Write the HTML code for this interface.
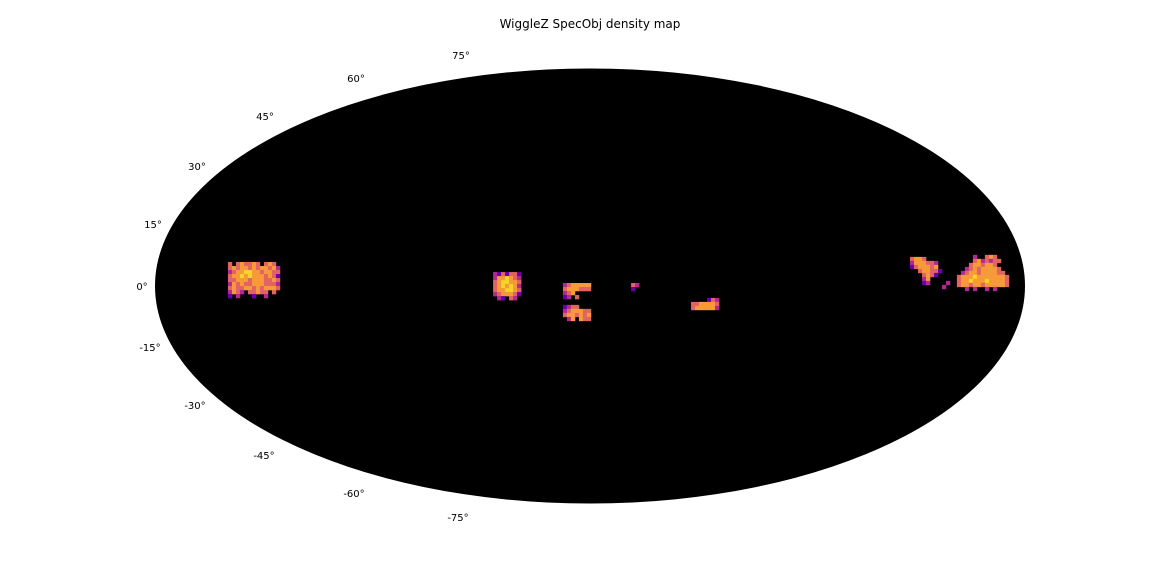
<!DOCTYPE html>
<html><head><meta charset="utf-8">
<style>
html,body{margin:0;padding:0;background:#fff;}
svg text{font-family:"DejaVu Sans","Liberation Sans",sans-serif;font-size:10px;fill:#000;}
</style></head>
<body>
<svg id="chart" width="1152" height="576" viewBox="0 0 1152 576" xmlns="http://www.w3.org/2000/svg">
<text x="590" y="28" text-anchor="middle" style="font-size:12px">WiggleZ SpecObj density map</text>
<ellipse cx="590" cy="286" rx="435" ry="217.5" fill="#000"/>
<g id="labels">
<text x="461" y="59" text-anchor="middle">75°</text>
<text x="356" y="82" text-anchor="middle">60°</text>
<text x="265" y="120" text-anchor="middle">45°</text>
<text x="197" y="170" text-anchor="middle">30°</text>
<text x="153" y="228" text-anchor="middle">15°</text>
<text x="142" y="290" text-anchor="middle">0°</text>
<text x="150" y="351" text-anchor="middle">-15°</text>
<text x="195" y="409" text-anchor="middle">-30°</text>
<text x="264" y="459" text-anchor="middle">-45°</text>
<text x="354" y="497" text-anchor="middle">-60°</text>
<text x="458" y="521" text-anchor="middle">-75°</text>
</g>
<g id="cells"></g>
</svg>
<script>
const patchNames = ["patch-01h","patch-09h","patch-11h-a","patch-11h-b","patch-12h","patch-15h","patch-22h-a","patch-22h-b"];
const patchLon = [-149.8,-40.1,-11.2,-11.2,17.0,41.8,132.4,151.8];
const patchLat = [5.85,3.4,0.73,-4.6,0.73,-2.9,7.1,7.6];
const patchGrids = [
 ["3.343343.343.","3434434344342","2344554434433","3445454443431","3344434443343","2434334443332","3433443434443","2432.33433.3.","1.2...1..2..."],
 ["2131331","2445432","3455443","3454542","3445543","2344431",".21.32."],
 ["2344444","3444333","234....","12.3..."],
 ["1233...","2344433","3443434",".24.433"],
 ["32","1."],
 ["....132","3344443","3444442"],
 ["3443......","2444332...","1344434...","..344331..","...3431...","...24.....","...12....2","........2.","..........",],
 ["....2..343.","....3423233.","...3443443..","..234344443.",".23443444433","3444544444443","3445444544443","3443443444443","..2.2..2.2..."]
];
const cellLon = 1.655, cellLat = 0.976;
const colors = ["none","#6a00a8","#b12a90","#e16462","#f69a3a","#f6d52b"];
const cx = 590, cy = 286, pxPerLon = 2.417, pxPerLat = 4.1;
function xScale(lon){return cx + lon*pxPerLon;}
function yScale(lat){return cy - lat*pxPerLat;}
const g = document.getElementById('cells');
const NS = "http://www.w3.org/2000/svg";
patchGrids.forEach((grid,p)=>{
  const pg = document.createElementNS(NS,'g');
  
  
  grid.forEach((row,r)=>{
    for(let c=0;c<row.length;c++){
      const v = parseInt(row[c]);
      if(!v) continue;
      const x0 = xScale(patchLon[p] + c*cellLon), x1 = xScale(patchLon[p] + (c+1)*cellLon);
      const y0 = yScale(patchLat[p] - r*cellLat), y1 = yScale(patchLat[p] - (r+1)*cellLat);
      const rect = document.createElementNS(NS,'rect');
      
      
      rect.setAttribute('x', x0); rect.setAttribute('y', y0);
      rect.setAttribute('width', x1-x0+0.3); rect.setAttribute('height', y1-y0+0.3);
      rect.setAttribute('fill', colors[v]);
      pg.appendChild(rect);
    }
  });
  g.appendChild(pg);
});
</script>
</body></html>
